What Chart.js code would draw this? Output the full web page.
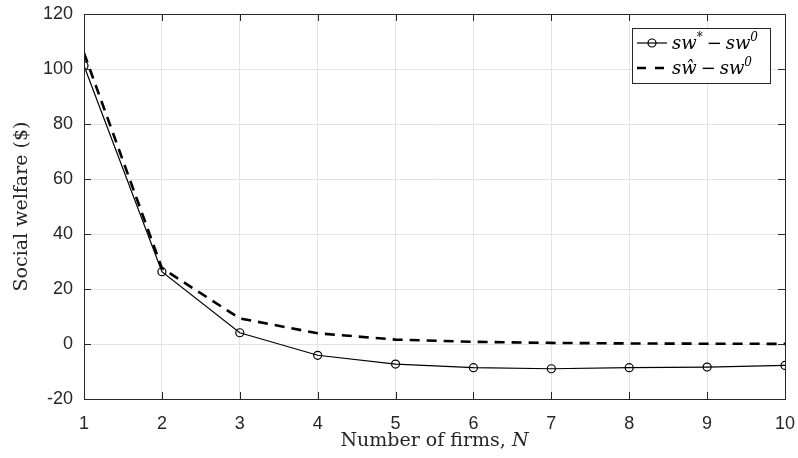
<!DOCTYPE html>
<html><head><meta charset="utf-8">
<script src="https://cdn.jsdelivr.net/npm/chart.js@4"></script>
<style>html,body{margin:0;padding:0;background:#fff}#wrap{width:798px;height:458px}</style>
</head><body><div id="wrap"><canvas id="c" width="798" height="458"></canvas></div>
<script>
// ---- data ----
const firms = [1, 2, 3, 4, 5, 6, 7, 8, 9, 10];
const swStarMinusSw0 = [101.2, 26.3, 4.1, -4.1, -7.3, -8.6, -9.0, -8.6, -8.4, -7.8];
const swHatMinusSw0 = [105.8, 27.6, 9.3, 3.9, 1.6, 0.8, 0.4, 0.2, 0.1, 0.05];
const xTickValues = [1, 2, 3, 4, 5, 6, 7, 8, 9, 10];
const yTickValues = [-20, 0, 20, 40, 60, 80, 100, 120];
const xTitle = "Number of firms, ";
const xTitleVar = "N";
const yTitle = "Social welfare ($)";

const AX = '#262626';
const TITLE_FONT = '19px "DejaVu Serif"';
const TITLE_ITALIC = 'italic 19px "DejaVu Serif"';

const framePlugin = {
  id: 'frame',
  afterDraw(chart) {
    const ctx = chart.ctx, a = chart.chartArea;
    const xs = chart.scales.x, ys = chart.scales.y;
    ctx.save();
    ctx.strokeStyle = AX; ctx.lineWidth = 1;
    ctx.strokeRect(Math.round(a.left) + 0.5, Math.round(a.top) + 0.5, Math.round(a.right - a.left), Math.round(a.bottom - a.top));
    const tl = 7;
    ctx.beginPath();
    xTickValues.forEach(v => {
      const px = Math.round(xs.getPixelForValue(v)) + 0.5;
      ctx.moveTo(px, a.bottom); ctx.lineTo(px, a.bottom - tl);
      ctx.moveTo(px, a.top); ctx.lineTo(px, a.top + tl);
    });
    yTickValues.forEach(v => {
      const py = Math.round(ys.getPixelForValue(v)) + 0.5;
      ctx.moveTo(a.left, py); ctx.lineTo(a.left + tl, py);
      ctx.moveTo(a.right, py); ctx.lineTo(a.right - tl, py);
    });
    ctx.stroke();

    // axis titles
    ctx.fillStyle = AX;
    ctx.textBaseline = 'alphabetic';
    ctx.font = TITLE_FONT;
    const w1 = ctx.measureText(xTitle).width;
    ctx.font = TITLE_ITALIC;
    const w2 = ctx.measureText(xTitleVar).width;
    const cx = (a.left + a.right) / 2;
    let sx = cx - (w1 + w2) / 2;
    ctx.font = TITLE_FONT; ctx.textAlign = 'left';
    ctx.fillText(xTitle, sx, 446);
    ctx.font = TITLE_ITALIC;
    ctx.fillText(xTitleVar, sx + w1, 446);

    ctx.save();
    ctx.translate(27, (a.top + a.bottom) / 2);
    ctx.rotate(-Math.PI / 2);
    ctx.font = TITLE_FONT; ctx.textAlign = 'center';
    ctx.fillText(yTitle, 0, 0);
    ctx.restore();

    // legend
    const lx = 632.5, ly = 28.5, lw = 138, lh = 55;
    ctx.fillStyle = '#fff';
    ctx.fillRect(lx, ly, lw, lh);
    ctx.strokeStyle = AX; ctx.lineWidth = 1;
    ctx.strokeRect(lx, ly, lw, lh);
    const r1 = 43, r2 = 68;
    ctx.strokeStyle = '#000'; ctx.lineWidth = 1.2;
    ctx.beginPath(); ctx.moveTo(637, r1); ctx.lineTo(667, r1); ctx.stroke();
    ctx.beginPath(); ctx.arc(652, r1, 4, 0, Math.PI * 2); ctx.stroke();
    ctx.lineWidth = 2.6;
    ctx.beginPath(); ctx.moveTo(637, r2); ctx.lineTo(646, r2); ctx.moveTo(655, r2); ctx.lineTo(664, r2); ctx.stroke();

    const drawMath = (parts, x, y) => {
      parts.forEach(p => {
        ctx.font = p.sup ? 'italic 12px "DejaVu Serif"' : (p.up ? '18px "DejaVu Serif"' : 'italic 18px "DejaVu Serif"');
        ctx.fillText(p.t, x, p.sup ? y - 8 : y);
        x += ctx.measureText(p.t).width + (p.gap || 0);
      });
    };
    ctx.fillStyle = '#000'; ctx.textAlign = 'left';
    drawMath([{t: 'sw'}, {t: '*', sup: true, gap: 4}, {t: '\u2212', up: true, gap: 4}, {t: 'sw'}, {t: '0', sup: true}], 672, r1 + 6);
    drawMath([{t: 's\u0175', gap: 4}, {t: '\u2212', up: true, gap: 4}, {t: 'sw'}, {t: '0', sup: true}], 672, r2 + 6);
    ctx.restore();
  }
};

new Chart(document.getElementById('c'), {
  type: 'line',
  data: {
    datasets: [
      {
        label: 'sw* − sw0',
        data: firms.map((n, i) => ({x: n, y: swStarMinusSw0[i]})),
        borderColor: '#000', borderWidth: 1.2,
        pointStyle: 'circle', pointRadius: 4, pointBorderWidth: 1.2,
        pointBorderColor: '#000', pointBackgroundColor: 'rgba(0,0,0,0)',
        tension: 0, order: 1
      },
      {
        label: 'ŝw − sw0',
        data: firms.map((n, i) => ({x: n, y: swHatMinusSw0[i]})),
        borderColor: '#000', borderWidth: 2.6, borderDash: [10, 7],
        pointRadius: 0, tension: 0, order: 2
      }
    ]
  },
  options: {
    responsive: false, animation: false, devicePixelRatio: 1,
    layout: {padding: {top: 14, right: 13, left: 0, bottom: 0}},
    plugins: {legend: {display: false}, tooltip: {enabled: false}},
    scales: {
      x: {
        type: 'linear', min: 1, max: 10,
        afterFit: s => { s.height = 59; s.paddingLeft = 0; s.paddingRight = 0; },
        afterBuildTicks: s => { s.ticks = xTickValues.map(v => ({value: v})); },
        ticks: {font: {family: '"Liberation Sans"', size: 18}, color: AX, padding: 14, maxRotation: 0},
        grid: {color: '#e3e3e3', drawTicks: false, lineWidth: 1},
        border: {display: false},
        title: {display: false}
      },
      y: {
        min: -20, max: 120,
        afterFit: s => { s.width = 84; s.paddingTop = 0; s.paddingBottom = 0; },
        afterBuildTicks: s => { s.ticks = yTickValues.map(v => ({value: v})); },
        ticks: {font: {family: '"Liberation Sans"', size: 18}, color: AX, padding: 11},
        grid: {color: '#e3e3e3', drawTicks: false, lineWidth: 1},
        border: {display: false},
        title: {display: false}
      }
    }
  },
  plugins: [framePlugin]
});
</script>
</body></html>
